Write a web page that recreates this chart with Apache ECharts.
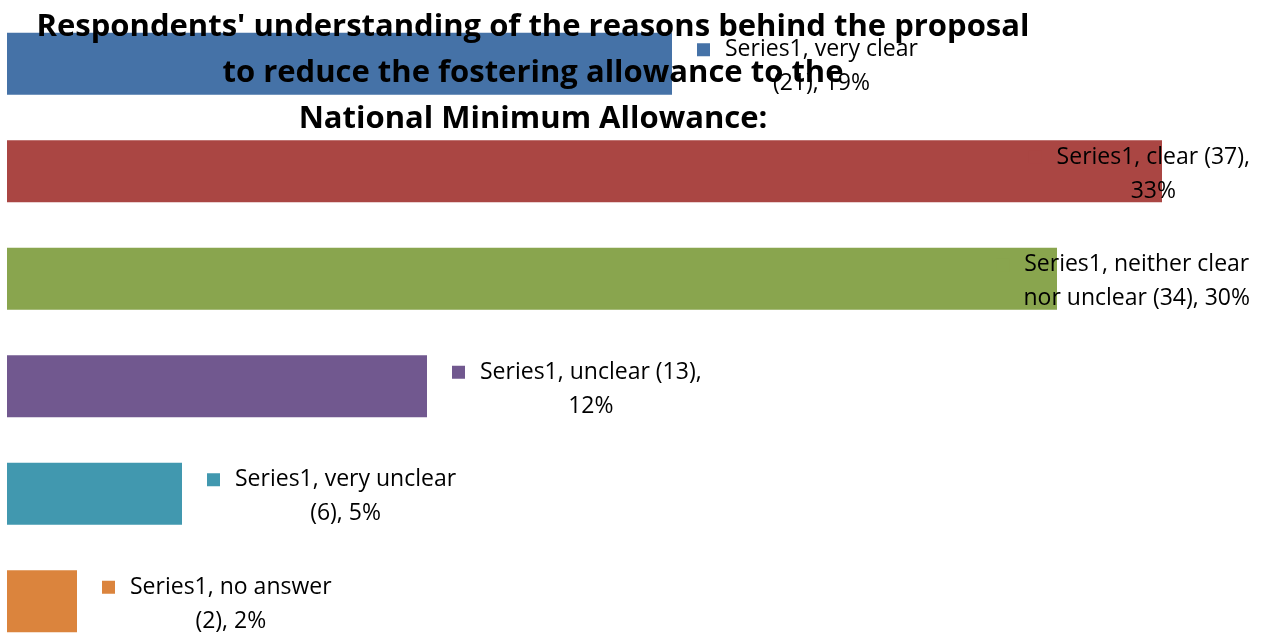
<!DOCTYPE html>
<html>
<head>
<meta charset="utf-8">
<script src="https://cdn.jsdelivr.net/npm/echarts@6/dist/echarts.min.js"></script>
<style>html,body{margin:0;padding:0;background:#fff}#c{width:1265px;height:634px}</style>
</head>
<body>
<div id="c"></div>
<script>
const seriesName = 'Series1';
const categories = ['very clear', 'clear', 'neither clear nor unclear', 'unclear', 'very unclear', 'no answer'];
const counts = [21, 37, 34, 13, 6, 2];
const percents = [19, 33, 30, 12, 5, 2];
const colors = ['#4572A7', '#AA4643', '#89A54E', '#71588F', '#4198AF', '#DB843D'];
const titleText = "Respondents' understanding of the reasons behind the proposal\nto reduce the fostering allowance to the\nNational Minimum Allowance:";

const FONT = 'Open Sans';
function wrap(text, maxChars) {
  const words = text.split(' ');
  const lines = [];
  let cur = '';
  words.forEach(w => {
    const cand = cur ? cur + ' ' + w : w;
    if (cand.length > maxChars && cur) { lines.push(cur); cur = w; }
    else cur = cand;
  });
  if (cur) lines.push(cur);
  return lines;
}

const data = percents.map((p, i) => {
  const lines = wrap(seriesName + ', ' + categories[i] + ' (' + counts[i] + '), ' + p + '%', 22);
  const long = p > 25;
  return {
    value: p,
    itemStyle: { color: colors[i] },
    label: {
      show: true,
      position: 'right',
      align: long ? 'right' : 'left',
      distance: long ? (p === 33 ? 88 : 193) : 25,
      offset: [0, 3],
      formatter: '{m|}{g|}{t|' + lines[0] + '}\n{s|}{t|' + lines[1] + '}',
      rich: {
        m: { width: 13, height: 13, backgroundColor: colors[i], align: 'center' },
        g: { width: 15, align: 'center' },
        s: { width: 28, align: 'center' },
        t: { fontFamily: FONT, fontSize: 23, color: '#000', align: 'center', lineHeight: 34 }
      }
    }
  };
});

const chart = echarts.init(document.getElementById('c'));
chart.setOption({
  animation: false,
  backgroundColor: '#fff',
  title: {
    text: titleText,
    left: 528,
    textAlign: 'center',
    top: -1,
    textStyle: { fontFamily: FONT, fontWeight: 'bold', fontSize: 31, lineHeight: 46, color: '#000' },
    z: 10
  },
  grid: { left: 7, top: 10, width: 1225, height: 645, containLabel: false, outerBoundsMode: 'none' },
  xAxis: { type: 'value', min: 0, max: 35, show: false },
  yAxis: { type: 'category', data: categories, inverse: true, show: false },
  series: [{
    type: 'bar',
    name: seriesName,
    barWidth: 62,
    data: data,
    label: { show: true, lineHeight: 34 }
  }]
});
</script>
</body>
</html>
